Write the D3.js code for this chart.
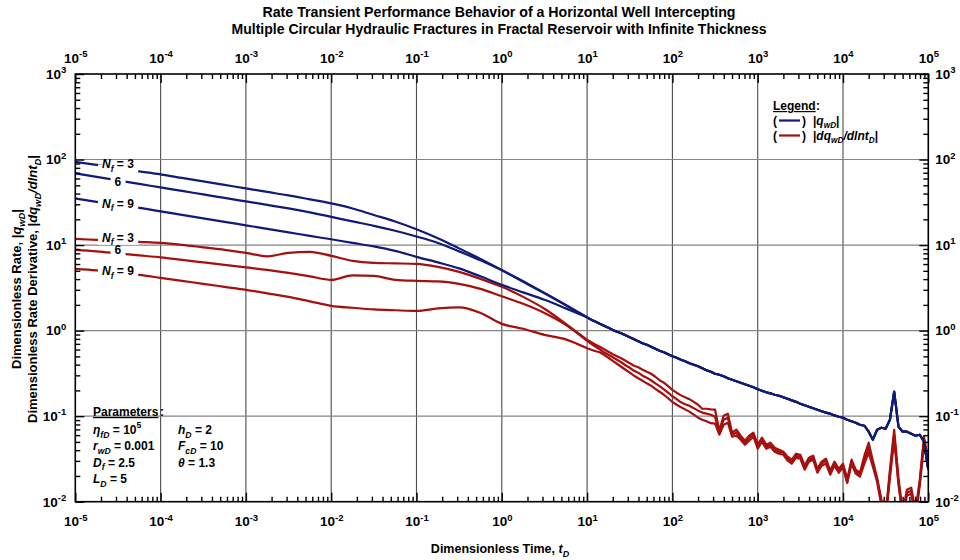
<!DOCTYPE html>
<html>
<head>
<meta charset="utf-8">
<script src="https://cdn.jsdelivr.net/npm/d3@7"></script>
<style>
  body { margin: 0; background: #fff; }
  svg { font-family: "Liberation Sans", Arial, sans-serif; font-weight: bold; }
</style>
</head>
<body>
<svg id="chart" width="960" height="560"></svg>
<script>
// ---- time grids ----
const tEarly = [1e-5, 1.78e-5, 3.16e-5, 5.62e-5, 1e-4, 1.78e-4, 3.16e-4, 5.62e-4,
  1e-3, 1.78e-3, 3.16e-3, 5.62e-3, 1e-2, 1.78e-2, 3.16e-2, 5.62e-2,
  0.1, 0.178, 0.316, 0.562, 1, 1.78, 3.16, 5.62, 10];
const tLate = [10, 11.2, 12.6, 14.1, 15.8, 17.8, 20.0, 22.4, 25.1, 28.2, 31.6, 35.5, 39.8, 44.7, 50.1, 56.2, 63.1, 70.8, 79.4, 89.1,
  100, 112, 126, 141, 158, 178, 200, 224, 251, 282, 316, 355, 398, 447, 501, 562, 631, 708, 794, 891,
  1000, 1120, 1260, 1410, 1580, 1780, 2000, 2240, 2510, 2820, 3160, 3550, 3980, 4470, 5010, 5620, 6310, 7080, 7940, 8910,
  10000, 11200, 12600, 14100, 15800, 17800, 20000, 22400, 25100, 28200, 31600, 35500, 39800, 44700, 50100, 56200, 63100, 70800, 79400, 89100,
  100000];

// ---- |qwD| (rate), early time, one array per fracture count ----
const qNf3Early = [93.8, 86.5, 78.7, 72.6, 67.0, 61.0, 55.5, 50.5, 46.0, 41.8, 38.1, 34.2, 30.7, 26.8, 22.5, 18.9, 15.3, 12.0, 9.15, 6.90, 5.13, 3.77, 2.76, 2.00, 1.43];
const qNf6Early = [68.8, 62.6, 57.0, 51.9, 47.2, 43.0, 39.1, 35.6, 32.4, 29.5, 26.8, 24.1, 21.4, 18.9, 16.8, 14.7, 12.6, 10.6, 8.44, 6.63, 5.06, 3.72, 2.73, 1.98, 1.43];
const qNf9Early = [35.1, 32.0, 29.5, 27.2, 24.8, 22.5, 20.5, 18.7, 17.0, 15.5, 14.1, 12.8, 11.7, 10.6, 9.66, 8.56, 7.28, 6.28, 5.34, 4.31, 3.43, 2.80, 2.29, 1.82, 1.43];
// late time: the three rate curves coincide
const qLate = [1.43, 1.34, 1.27, 1.20, 1.14, 1.08, 1.02, 0.969, 0.931, 0.882, 0.836, 0.792, 0.751, 0.711, 0.683, 0.647, 0.613, 0.581, 0.558, 0.529,
  0.501, 0.482, 0.456, 0.438, 0.415, 0.399, 0.383, 0.363, 0.344, 0.330, 0.313, 0.305, 0.293, 0.277, 0.266, 0.256, 0.246, 0.236, 0.227, 0.218,
  0.206, 0.198, 0.190, 0.185, 0.178, 0.173, 0.166, 0.160, 0.153, 0.147, 0.140, 0.134, 0.129, 0.124, 0.119, 0.114, 0.110, 0.107, 0.102, 0.0985,
  0.0959, 0.0909, 0.0873, 0.0838, 0.0794, 0.0773, 0.0658, 0.0531, 0.0694, 0.0733, 0.0713, 0.0909, 0.193, 0.0753, 0.0658, 0.0658, 0.0624, 0.0591, 0.0607, 0.0503,
  0.0237];

// ---- |dqwD/dlntD| (rate derivative) ----
const dNf3Early = [11.8, 11.5, 11.2, 10.9, 10.6, 10.05, 9.40, 8.79, 8.11, 7.38, 8.11, 8.33, 7.48, 6.54, 6.19, 6.11, 6.03, 5.56, 4.86, 4.03, 3.25, 2.48, 1.80, 1.20, 0.781];
const dNf6Early = [8.79, 8.44, 8.00, 7.58, 7.18, 6.72, 6.28, 5.87, 5.49, 5.13, 4.73, 4.31, 3.92, 4.43, 4.37, 3.92, 3.82, 3.77, 3.52, 3.08, 2.52, 2.06, 1.61, 1.17, 0.760];
const dNf9Early = [5.27, 5.06, 4.80, 4.49, 4.14, 3.82, 3.52, 3.25, 3.00, 2.73, 2.48, 2.20, 1.95, 1.85, 1.77, 1.73, 1.70, 1.82, 1.87, 1.61, 1.20, 1.05, 0.893, 0.791, 0.621];
const dNf3Late = [0.781, 0.731, 0.683, 0.647, 0.605, 0.566, 0.529, 0.501, 0.475, 0.444, 0.415, 0.388, 0.373, 0.349, 0.330, 0.313, 0.289, 0.263, 0.246, 0.224,
  0.203, 0.188, 0.175, 0.166, 0.158, 0.147, 0.136, 0.122, 0.122, 0.120, 0.119, 0.0676, 0.101, 0.107, 0.0641, 0.0694, 0.0591, 0.0516, 0.0591, 0.0641,
  0.0464, 0.0560, 0.0464, 0.0489, 0.0428, 0.0405, 0.0384, 0.0336, 0.0310, 0.0364, 0.0354, 0.0264, 0.0327, 0.0345, 0.0243, 0.0294, 0.0318, 0.0230, 0.0294, 0.0243,
  0.0278, 0.0186, 0.0310, 0.0237, 0.0218, 0.0345, 0.0489, 0.0302, 0.0191, 0.0106, 0.00705, 0.0237, 0.0694, 0.0191, 0.00764, 0.0138, 0.0146, 0.00764, 0.0181, 0.0575,
  0.0294];
const dNf6Late = [0.760, 0.702, 0.647, 0.605, 0.558, 0.522, 0.488, 0.456, 0.427, 0.394, 0.368, 0.339, 0.322, 0.297, 0.281, 0.263, 0.242, 0.224, 0.206, 0.188,
  0.171, 0.158, 0.145, 0.138, 0.132, 0.124, 0.116, 0.110, 0.107, 0.104, 0.0985, 0.0641, 0.0909, 0.0959, 0.0607, 0.0641, 0.0560, 0.0489, 0.0560, 0.0607,
  0.0439, 0.0531, 0.0439, 0.0464, 0.0405, 0.0384, 0.0374, 0.0318, 0.0294, 0.0345, 0.0336, 0.0250, 0.0310, 0.0327, 0.0230, 0.0278, 0.0302, 0.0218, 0.0278, 0.0230,
  0.0264, 0.0167, 0.0294, 0.0224, 0.0207, 0.0310, 0.0428, 0.0278, 0.0181, 0.00973, 0.0065, 0.0213, 0.0607, 0.0167, 0.00705, 0.0127, 0.0134, 0.00705, 0.0167, 0.0531,
  0.0264];
const dNf9Late = [0.621, 0.597, 0.574, 0.558, 0.522, 0.482, 0.444, 0.410, 0.378, 0.349, 0.322, 0.297, 0.277, 0.259, 0.242, 0.227, 0.209, 0.193, 0.178, 0.162,
  0.147, 0.136, 0.127, 0.120, 0.113, 0.104, 0.0959, 0.0909, 0.0873, 0.0827, 0.0816, 0.0607, 0.0794, 0.0838, 0.0575, 0.0591, 0.0531, 0.0464, 0.0516, 0.0575,
  0.0416, 0.0503, 0.0416, 0.0439, 0.0384, 0.0364, 0.0354, 0.0302, 0.0278, 0.0327, 0.0318, 0.0237, 0.0294, 0.0310, 0.0218, 0.0264, 0.0278, 0.0207, 0.0264, 0.0218,
  0.0250, 0.0167, 0.0278, 0.0213, 0.0196, 0.0278, 0.0374, 0.0257, 0.0171, 0.00898, 0.00616, 0.0191, 0.0531, 0.0162, 0.0065, 0.0118, 0.0124, 0.0065, 0.0154, 0.0476,
  0.0237];

// ---- tick labels ----
const xTickValues = [1e-5, 1e-4, 1e-3, 1e-2, 1e-1, 1, 1e1, 1e2, 1e3, 1e4, 1e5];
const xTickExponents = ["-5", "-4", "-3", "-2", "-1", "0", "1", "2", "3", "4", "5"];
const yTickValues = [1e-2, 1e-1, 1, 1e1, 1e2, 1e3];
const yTickExponents = ["-2", "-1", "0", "1", "2", "3"];

const fractureCounts = [3, 6, 9];

// ---- layout ----
const svg = d3.select("#chart");
const plot = { left: 75.3, right: 928.3, top: 74, bottom: 501.7 };
const x = d3.scaleLog().domain([1e-5, 1e5]).range([plot.left, plot.right]);
const y = d3.scaleLog().domain([1e-2, 1e3]).range([plot.bottom, plot.top]);

const BLUE = "#101b78";
const RED = "#a5100f";

// rich text: segments with italic / subscript / superscript
function rich(textSel, parts, size) {
  let offset = 0;
  parts.forEach(p => {
    const ts = textSel.append("tspan").text(p.t);
    if (p.i) ts.attr("font-style", "italic");
    let target = 0;
    if (p.sub) { ts.attr("font-size", (size * 0.72) + "px"); target = size * 0.3; }
    if (p.sup) { ts.attr("font-size", (size * 0.72) + "px"); target = -size * 0.48; }
    if (target !== offset) { ts.attr("dy", target - offset); offset = target; }
  });
  return textSel;
}

// ---- grid ----
const grid = svg.append("g");
grid.selectAll("line.v").data(xTickValues.slice(1, -1)).join("line")
  .attr("x1", d => x(d)).attr("x2", d => x(d))
  .attr("y1", plot.top).attr("y2", plot.bottom)
  .attr("stroke", "#4d4d4d").attr("stroke-width", 1.1);
grid.selectAll("line.h").data(yTickValues.slice(1, -1)).join("line")
  .attr("x1", plot.left).attr("x2", plot.right)
  .attr("y1", d => y(d)).attr("y2", d => y(d))
  .attr("stroke", "#858585").attr("stroke-width", 1.1);

// ---- curves ----
svg.append("clipPath").attr("id", "plotClip").append("rect")
  .attr("x", plot.left).attr("y", plot.top)
  .attr("width", plot.right - plot.left).attr("height", plot.bottom - plot.top);

const smoothLine = d3.line().x(d => x(d[0])).y(d => y(d[1])).curve(d3.curveMonotoneX);
const rawLine = d3.line().x(d => x(d[0])).y(d => y(d[1]));

const rateEarly = [qNf3Early, qNf6Early, qNf9Early];
const derivEarly = [dNf3Early, dNf6Early, dNf9Early];
const derivLate = [dNf3Late, dNf6Late, dNf9Late];

const curves = svg.append("g").attr("clip-path", "url(#plotClip)")
  .attr("fill", "none").attr("stroke-width", 2.2).attr("stroke-linejoin", "round");

function drawSeries(early, late, color) {
  curves.append("path").attr("stroke", color)
    .attr("d", smoothLine(tEarly.map((t, i) => [t, early[i]])));
  curves.append("path").attr("stroke", color)
    .attr("d", rawLine(tLate.map((t, i) => [t, late[i]])));
}
derivEarly.forEach((arr, k) => drawSeries(arr, derivLate[k], RED));
rateEarly.forEach(arr => drawSeries(arr, qLate, BLUE));

// ---- curve labels (white-backed, sitting on the curves) ----
const labelIdx = 2;
const labelGroup = svg.append("g").attr("font-size", "12px");
function curveLabel(series, k, shift) {
  const parts = k === 1 ? [{ t: "6" }]
    : [{ t: "N", i: true }, { t: "f", i: true, sub: true }, { t: " = " + fractureCounts[k] }];
  const cx = x(tEarly[labelIdx]);
  const cy = y(series[labelIdx]);
  const g = labelGroup.append("g");
  const txt = g.append("text").attr("x", cx).attr("y", cy + 3 + shift).attr("text-anchor", "middle");
  rich(txt, parts, 12);
  const bb = txt.node().getBBox();
  g.insert("rect", "text")
    .attr("x", bb.x - 4).attr("y", cy - 4)
    .attr("width", bb.width + 8).attr("height", 8)
    .attr("fill", "#fff");
}
const rateShift = [-3, 2.5, 0];
const derivShift = [-2, -2, 0];
rateEarly.forEach((s, k) => curveLabel(s, k, rateShift[k]));
derivEarly.forEach((s, k) => curveLabel(s, k, derivShift[k]));

// ---- frame ----
svg.append("rect")
  .attr("x", plot.left).attr("y", plot.top)
  .attr("width", plot.right - plot.left).attr("height", plot.bottom - plot.top)
  .attr("fill", "none").attr("stroke", "#000").attr("stroke-width", 1.6);

// ---- axes ----
function minorsOf(decades) {
  const out = [];
  decades.slice(0, -1).forEach(d => { for (let m = 2; m <= 9; m++) out.push(d * m); });
  return out;
}
const xMinor = minorsOf(xTickValues);
const yMinor = minorsOf(yTickValues);

function supLabels(sel, values, exps) {
  sel.selectAll(".tick text").each(function (d) {
    const i = values.findIndex(v => Math.abs(Math.log10(v) - Math.log10(d)) < 1e-6);
    const t = d3.select(this).text(null).attr("fill", "#000");
    t.append("tspan").text("10");
    t.append("tspan").attr("font-size", "9.5px").attr("dy", "-0.6em").text(exps[i]);
  });
}

function styleAxis(g, size) {
  g.select(".domain").remove();
  g.selectAll(".tick line").attr("stroke", "#000").attr("stroke-width", 1.4);
  g.attr("font-family", null).attr("font-size", size);
}

const axes = [
  { gen: d3.axisBottom(x), tr: `translate(0,${plot.bottom})`, vals: xTickValues, exps: xTickExponents, minor: xMinor, pad: 15 },
  { gen: d3.axisTop(x), tr: `translate(0,${plot.top})`, vals: xTickValues, exps: xTickExponents, minor: xMinor, pad: 11 },
  { gen: d3.axisLeft(y), tr: `translate(${plot.left},0)`, vals: yTickValues, exps: yTickExponents, minor: yMinor, pad: 9 },
  { gen: d3.axisRight(y), tr: `translate(${plot.right},0)`, vals: yTickValues, exps: yTickExponents, minor: yMinor, pad: 7 }
];
axes.forEach(a => {
  const major = svg.append("g").attr("transform", a.tr)
    .call(a.gen.tickValues(a.vals).tickSizeInner(-9).tickSizeOuter(0).tickPadding(a.pad).tickFormat(d => d));
  styleAxis(major, "13.5px");
  supLabels(major, a.vals, a.exps);
  const minor = svg.append("g").attr("transform", a.tr)
    .call(a.gen.tickValues(a.minor).tickSizeInner(-5).tickSizeOuter(0).tickFormat(""));
  styleAxis(minor, "13.5px");
});

// ---- titles ----
svg.append("text").attr("x", 499).attr("y", 17).attr("text-anchor", "middle")
  .attr("font-size", "14.5px").attr("textLength", 473).attr("lengthAdjust", "spacingAndGlyphs")
  .text("Rate Transient Performance Behavior of a Horizontal Well Intercepting");
svg.append("text").attr("x", 499).attr("y", 34).attr("text-anchor", "middle")
  .attr("font-size", "14.5px").attr("textLength", 535).attr("lengthAdjust", "spacingAndGlyphs")
  .text("Multiple Circular Hydraulic Fractures in Fractal Reservoir with Infinite Thickness");

rich(svg.append("text").attr("x", 500).attr("y", 553).attr("text-anchor", "middle").attr("font-size", "12.5px"),
  [{ t: "Dimensionless Time, " }, { t: "t", i: true }, { t: "D", i: true, sub: true }], 12.5);

rich(svg.append("text").attr("transform", "translate(21,289) rotate(-90)").attr("text-anchor", "middle").attr("font-size", "13px"),
  [{ t: "Dimensionless Rate,  |" }, { t: "q", i: true }, { t: "wD", i: true, sub: true }, { t: "|" }], 13);
rich(svg.append("text").attr("transform", "translate(37,289) rotate(-90)").attr("text-anchor", "middle").attr("font-size", "13px"),
  [{ t: "Dimensionless Rate Derivative, |" }, { t: "dq", i: true }, { t: "wD", i: true, sub: true },
   { t: "/dlnt", i: true }, { t: "D", i: true, sub: true }, { t: "|" }], 13);

// ---- legend ----
const legend = svg.append("g").attr("font-size", "12px");
legend.append("text").attr("x", 773).attr("y", 110).attr("text-decoration", "underline").text("Legend");
legend.append("text").attr("x", 816).attr("y", 110).text(":");
const legendRows = [
  { color: BLUE, parts: [{ t: "|" }, { t: "q", i: true }, { t: "wD", i: true, sub: true }, { t: "|" }] },
  { color: RED, parts: [{ t: "|" }, { t: "dq", i: true }, { t: "wD", i: true, sub: true }, { t: "/dlnt", i: true }, { t: "D", i: true, sub: true }, { t: "|" }] }
];
legendRows.forEach((r, i) => {
  const by = 124.5 + i * 15;
  legend.append("text").attr("x", 773).attr("y", by).text("(");
  legend.append("line").attr("x1", 779).attr("x2", 800).attr("y1", by - 4).attr("y2", by - 4)
    .attr("stroke", r.color).attr("stroke-width", 2.2);
  legend.append("text").attr("x", 802).attr("y", by).text(")");
  rich(legend.append("text").attr("x", 813).attr("y", by), r.parts, 11.5);
});

// ---- parameters ----
const params = svg.append("g").attr("font-size", "12px");
params.append("text").attr("x", 93).attr("y", 416).attr("text-decoration", "underline").text("Parameters");
params.append("text").attr("x", 93 + 67).attr("y", 416).text(":");
const paramRows = [
  [{ t: "\u03B7", i: true }, { t: "fD", i: true, sub: true }, { t: " = 10" }, { t: "5", sup: true }],
  [{ t: "r", i: true }, { t: "wD", i: true, sub: true }, { t: " = 0.001" }],
  [{ t: "D", i: true }, { t: "f", i: true, sub: true }, { t: " = 2.5" }],
  [{ t: "L", i: true }, { t: "D", i: true, sub: true }, { t: " = 5" }]
];
const paramRows2 = [
  [{ t: "h", i: true }, { t: "D", i: true, sub: true }, { t: " = 2" }],
  [{ t: "F", i: true }, { t: "cD", i: true, sub: true }, { t: " = 10" }],
  [{ t: "\u03B8", i: true }, { t: " = 1.3" }]
];
paramRows.forEach((p, i) => rich(params.append("text").attr("x", 93).attr("y", 434 + i * 16.3), p, 12));
paramRows2.forEach((p, i) => rich(params.append("text").attr("x", 178).attr("y", 434 + i * 16.3), p, 12));
</script>
</body>
</html>
